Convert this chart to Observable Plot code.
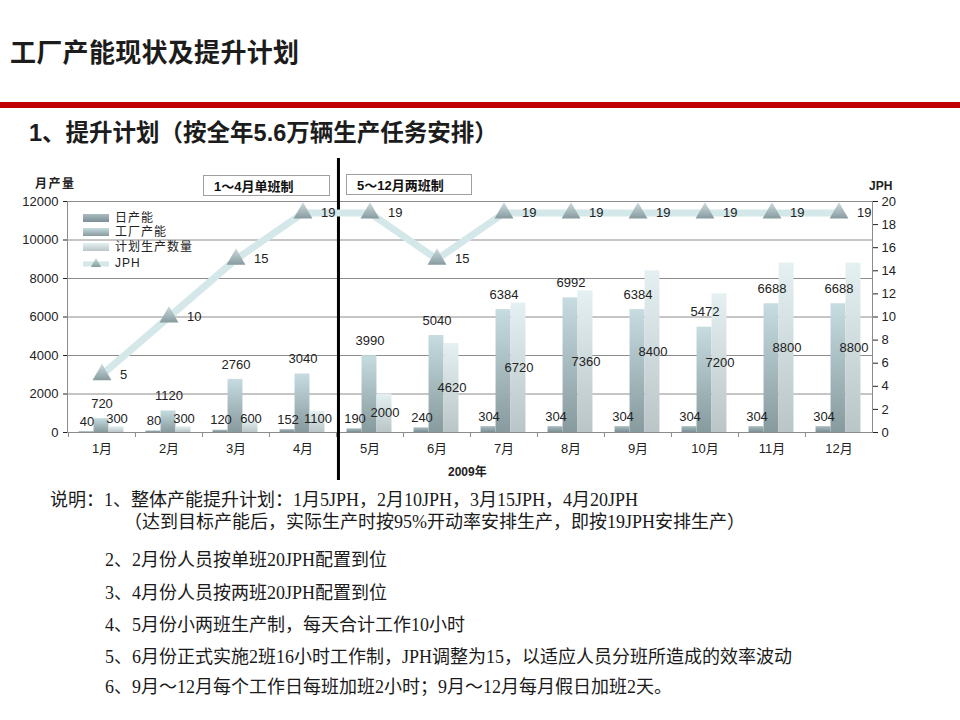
<!DOCTYPE html>
<html><head><meta charset="utf-8">
<script src="https://cdn.jsdelivr.net/npm/d3@7"></script>
<script src="https://cdn.jsdelivr.net/npm/@observablehq/plot@0.6"></script>
<style>
body{margin:0;background:#fff;width:960px;height:720px;position:relative;overflow:hidden;font-family:"Liberation Sans","Noto Sans CJK SC",sans-serif;color:#1e1e1e}
.abs{position:absolute;white-space:nowrap}
#title{left:10px;top:33px;font:bold 26px/36px "Noto Sans CJK SC",sans-serif;letter-spacing:0.3px;color:#1c1c1c}
#redbar{left:0;top:102px;width:960px;height:6px;background:#c00000}
#subtitle{left:29px;top:118px;font:bold 23.5px/30px "Liberation Sans","Noto Sans CJK SC",sans-serif;color:#1c1c1c}
#chart{left:0;top:150px}
.box{position:absolute;border:1px solid #a0a0a0;height:21px;font:bold 13px/21px "Liberation Sans","Noto Sans CJK SC",sans-serif;padding-left:10px;box-sizing:border-box;color:#111}
.ax{font:bold 12px/14px "Liberation Sans","Noto Sans CJK SC",sans-serif;color:#222}
.leg{position:absolute;left:83px;font:12px/14px "Liberation Sans","Noto Sans CJK SC",sans-serif;letter-spacing:1px;color:#222}
.note{position:absolute;font:18px/22px "Liberation Serif","Noto Sans CJK SC",serif;color:#1a1a1a;white-space:nowrap}
</style></head><body>
<div id="title" class="abs">工厂产能现状及提升计划</div>
<div id="redbar" class="abs"></div>
<div id="subtitle" class="abs">1、提升计划（按全年5.6万辆生产任务安排）</div>
<div id="chart" class="abs"></div>
<div id="overlay"></div>
<script>
// ---------- data ----------
const months = ["1月","2月","3月","4月","5月","6月","7月","8月","9月","10月","11月","12月"];
const dailyCap   = [40, 80, 120, 152, 190, 240, 304, 304, 304, 304, 304, 304];
const factoryCap = [720, 1120, 2760, 3040, 3990, 5040, 6384, 6992, 6384, 5472, 6688, 6688];
const planQty    = [300, 300, 600, 1100, 2000, 4620, 6720, 7360, 8400, 7200, 8800, 8800];
const jph        = [5, 10, 15, 19, 19, 15, 19, 19, 19, 19, 19, 19];
const seriesNames = ["日产能", "工厂产能", "计划生产数量", "JPH"];
const yTicks   = [0, 2000, 4000, 6000, 8000, 10000, 12000];
const jphTicks = [0, 2, 4, 6, 8, 10, 12, 14, 16, 18, 20];
const shiftLabels = ["1～4月单班制", "5～12月两班制"];
const yTitle = "月产量", y2Title = "JPH", xTitle = "2009年";
const notes = [
  "说明：1、整体产能提升计划：1月5JPH，2月10JPH，3月15JPH，4月20JPH",
  "（达到目标产能后，实际生产时按95%开动率安排生产，即按19JPH安排生产）",
  "2、2月份人员按单班20JPH配置到位",
  "3、4月份人员按两班20JPH配置到位",
  "4、5月份小两班生产制，每天合计工作10小时",
  "5、6月份正式实施2班16小时工作制，JPH调整为15，以适应人员分班所造成的效率波动",
  "6、9月～12月每个工作日每班加班2小时；9月～12月每月假日加班2天。"
];

// ---------- layout ----------
const W = 960, H = 340, mL = 67, mR = 88, mT = 51, mB = 58;
const yMax = 12000, jMax = 20, jk = yMax / jMax;
const bw = (W - mL - mR) / months.length;
const barW = 15, inset = (bw - barW) / 2;
const offs = [-barW, 0, barW];
const fills = ["url(#g0)", "url(#g1)", "url(#g2)"];

const series = [dailyCap, factoryCap, planQty];
const rows = [];
series.forEach((arr, k) => arr.forEach((v, i) => rows.push({month: months[i], value: v, k})));
const jRows = months.map((m, i) => ({month: m, v: jph[i]}));

const txt = {fontSize: 13, fill: "#222"};
const marks = [
  Plot.gridY({ticks: yTicks, stroke: "#8c8c8c", strokeOpacity: 1})
];
series.forEach((arr, k) => {
  const data = rows.filter(d => d.k === k);
  marks.push(Plot.barY(data, {x: "month", y: "value", dx: offs[k] - 0.5, insetLeft: inset, insetRight: inset, fill: fills[k]}));
});
marks.push(
  Plot.frame({stroke: "#8c8c8c"}),
  Plot.axisY({ticks: yTicks, anchor: "left", tickSize: 4, tickPadding: 5, label: null, fontSize: 13, color: "#222", tickFormat: d => String(d)}),
  Plot.axisY({ticks: jphTicks.map(v => v * jk), anchor: "right", tickSize: 5, tickPadding: 4, label: null, fontSize: 13, color: "#222", tickFormat: d => String(Math.round(d / jk))}),
  Plot.axisX({tickSize: 0, tickPadding: 11, label: null, fontSize: 13, color: "#222"}),
  Plot.ruleX(months, {x: d => d, y1: 0, y2: 0, dx: -bw / 2, insetBottom: -5, stroke: "#8c8c8c"}),
  Plot.ruleX(months.slice(4, 5), {x: d => d, dx: -bw / 2 + 2, stroke: "#000", strokeWidth: 3, insetTop: -43, insetBottom: -48}),
  Plot.line(jRows, {x: "month", y: d => d.v * jk, stroke: "#d4e7e9", strokeWidth: 7}),
  Plot.dot(jRows, {x: "month", y: d => d.v * jk, symbol: "triangle", r: 7, fill: "url(#gt)", stroke: null}),
  Plot.text(jRows, {x: "month", y: d => d.v * jk, text: d => String(d.v), dx: 18, textAnchor: "start", ...txt}),
  Plot.text(rows.filter(d => d.k === 0), {x: "month", y: "value", text: d => String(d.value), dx: offs[0], dy: -10, ...txt}),
  Plot.text(rows.filter(d => d.k === 1), {x: "month", y: "value", text: d => String(d.value), dx: offs[1], dy: -15, ...txt}),
  Plot.text(rows.filter(d => d.k === 2), {x: "month", y: d => Math.max(d.value / 2, 720), text: d => String(d.value), dx: offs[2], ...txt})
);

const chart = Plot.plot({
  width: W, height: H, marginLeft: mL, marginRight: mR, marginTop: mT, marginBottom: mB,
  style: {fontFamily: "'Liberation Sans','Noto Sans CJK SC',sans-serif", fontSize: "13px", background: "transparent", overflow: "visible", color: "#222"},
  x: {type: "band", domain: months, padding: 0, label: null},
  y: {domain: [0, yMax], label: null},
  marks
});
const ns = "http://www.w3.org/2000/svg";
const defs = document.createElementNS(ns, "defs");
const grads = {g0: ["#a9bcc0", "#7b8f94"], g1: ["#c6dce0", "#879a9e"], g2: ["#e4f0f1", "#b9c5c7"], gt: ["#cddcdf", "#879b9f"]};
for (const [id, [a, b]] of Object.entries(grads)) {
  const g = document.createElementNS(ns, "linearGradient");
  g.setAttribute("id", id); g.setAttribute("x1", "0"); g.setAttribute("y1", "0"); g.setAttribute("x2", "0"); g.setAttribute("y2", "1");
  [[0, a], [1, b]].forEach(([o, c]) => { const s = document.createElementNS(ns, "stop"); s.setAttribute("offset", o); s.setAttribute("stop-color", c); g.appendChild(s); });
  defs.appendChild(g);
}
chart.insertBefore(defs, chart.firstChild);
document.getElementById("chart").appendChild(chart);

// ---------- annotations / legend / notes ----------
const ov = document.getElementById("overlay");
function add(html) { ov.insertAdjacentHTML("beforeend", html); }
add(`<div class="box" style="left:203px;top:175px;width:127px">${shiftLabels[0]}</div>`);
add(`<div class="box" style="left:346px;top:174px;width:126px">${shiftLabels[1]}</div>`);
add(`<div class="abs ax" style="left:35px;top:177px;letter-spacing:1.5px">${yTitle}</div>`);
add(`<div class="abs ax" style="left:869px;top:179px">${y2Title}</div>`);
add(`<div class="abs ax" style="left:448px;top:465px">${xTitle}</div>`);
const legY = [218, 232, 247, 263];
seriesNames.forEach((n, k) => {
  const sw = k < 3
    ? `<svg width="26" height="8" style="position:absolute;left:0;top:3px"><rect width="26" height="8" fill="${fills[k]}"/></svg>`
    : `<svg width="26" height="12" style="position:absolute;left:0;top:1px"><line x1="0" x2="26" y1="7" y2="7" stroke="#d4e7e9" stroke-width="5"/><path d="M13,1 L18,10 L8,10 Z" fill="url(#gt)"/></svg>`;
  add(`<div class="leg" style="top:${legY[k] - 7}px;width:140px;height:14px">${sw}<span style="position:absolute;left:32px;top:0">${n}</span></div>`);
});
const noteY = [500, 522, 560, 593, 625, 657, 687];
const noteX = [50, 124, 105, 105, 105, 105, 105];
notes.forEach((t, i) => add(`<div class="note" style="left:${noteX[i]}px;top:${noteY[i] - 11}px">${t}</div>`));
</script>
</body></html>
